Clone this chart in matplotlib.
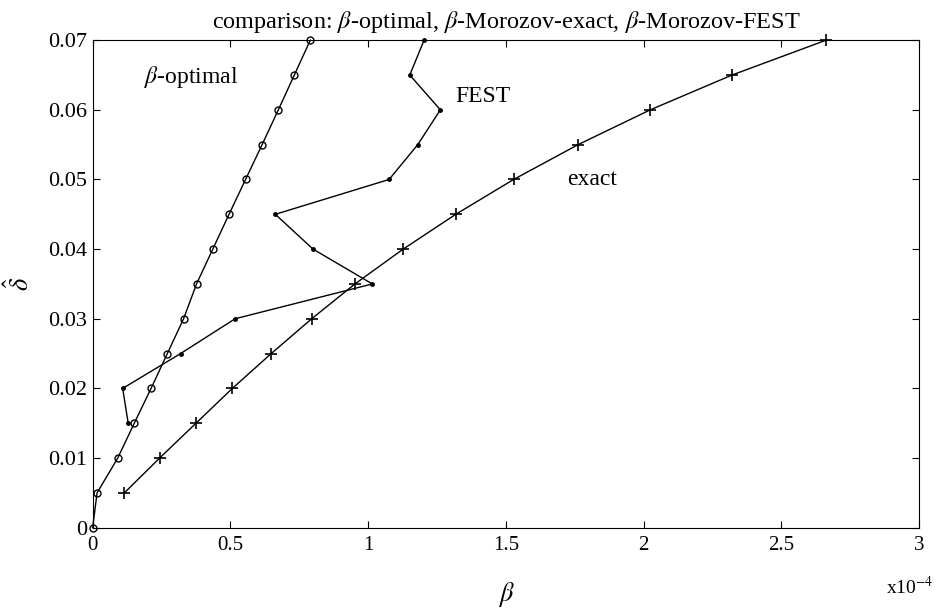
import matplotlib
matplotlib.use('Agg')
import matplotlib.pyplot as plt

plt.rcParams['font.family'] = ['Liberation Serif', 'DejaVu Serif']
plt.rcParams['mathtext.fontset'] = 'stix'

# noise levels (delta hat)
delta = [0, 0.005, 0.01, 0.015, 0.02, 0.025, 0.03, 0.035,
         0.04, 0.045, 0.05, 0.055, 0.06, 0.065, 0.07]
# beta values, units of 1e-4
beta_optimal = [0.0, 0.016, 0.091, 0.151, 0.212, 0.271, 0.330, 0.377,
                0.436, 0.495, 0.555, 0.615, 0.674, 0.732, 0.790]
delta_exact = delta[1:]
beta_exact = [0.115, 0.243, 0.375, 0.507, 0.648, 0.795, 0.952,
              1.127, 1.318, 1.528, 1.762, 2.024, 2.321, 2.662]
delta_fest = delta[3:]
beta_fest = [0.129, 0.109, 0.319, 0.517, 1.015, 0.800, 0.663,
             1.076, 1.180, 1.262, 1.151, 1.203]

fig = plt.figure(figsize=(9.36, 6.09), dpi=100)
ax = fig.add_axes([0.099, 0.1335, 0.883, 0.8005])

ax.plot(beta_optimal, delta, 'k-', marker='o', mfc='none', ms=5, lw=1, mew=1, clip_on=False)
ax.plot(beta_exact, delta_exact, 'k-', marker='+', ms=8, lw=1, mew=1.2, clip_on=False)
ax.plot(beta_fest, delta_fest, 'k-', marker='.', ms=5, lw=1, clip_on=False)

ax.set_xlim(0, 3)
ax.set_ylim(0, 0.07)
ax.set_xticks([0, 0.5, 1, 1.5, 2, 2.5, 3])
ax.set_xticklabels(['0', '0.5', '1', '1.5', '2', '2.5', '3'])
ax.set_yticks([0, 0.01, 0.02, 0.03, 0.04, 0.05, 0.06, 0.07])
ax.set_yticklabels(['0', '0.01', '0.02', '0.03', '0.04', '0.05', '0.06', '0.07'])
ax.tick_params(direction='in', top=True, right=True, length=5)
ax.tick_params(axis='x', labelsize=15, pad=6)
ax.tick_params(axis='y', labelsize=16, pad=4)

ax.text(0.186, 0.0638, r'$\beta$-optimal', fontsize=17)
ax.text(1.318, 0.0611, 'FEST', fontsize=17)
ax.text(1.722, 0.0492, 'exact', fontsize=17)

ax.set_title(r'comparison: $\beta$-optimal, $\beta$-Morozov-exact, $\beta$-Morozov-FEST',
             fontsize=17.5, pad=9)
ax.set_xlabel(r'$\beta$', fontsize=19, labelpad=18)
ax.set_ylabel(r'$\hat{\delta}$', fontsize=19, labelpad=10)
fig.text(0.947, 0.025, r'x10$^{-4}$', fontsize=14, va='baseline')

fig.savefig('out.png', dpi=100)
